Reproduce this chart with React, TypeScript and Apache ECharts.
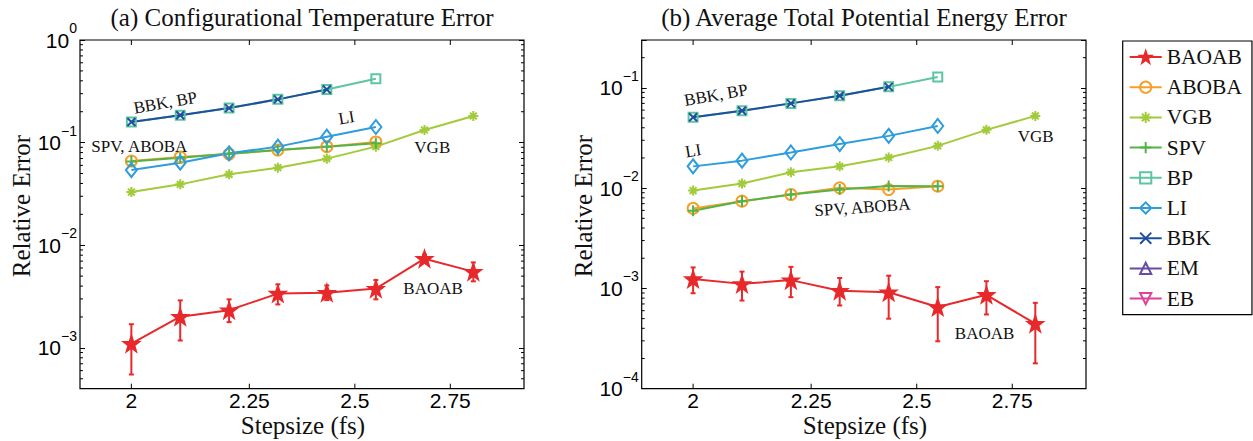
import React, { useEffect, useRef } from 'react';
import * as echarts from 'echarts';

// Step sizes (fs) shared by both panels
const stepsizes = [2, 2.1, 2.205, 2.315, 2.431, 2.553, 2.68, 2.814];

const xTickValues = [2, 2.25, 2.5, 2.75];
const xTickLabels = ['2', '2.25', '2.5', '2.75'];

const methods = ['BAOAB', 'ABOBA', 'VGB', 'SPV', 'BP', 'LI', 'BBK', 'EM', 'EB'];

// (a) configurational temperature relative error
const tempBAOAB = [0.0011, 0.00201, 0.00233, 0.00338, 0.00345, 0.00378, 0.0074, 0.00553];
const tempBAOABLow = [0.00055, 0.00118, 0.00178, 0.00265, 0.00292, 0.00297, 0.0068, 0.00445];
const tempBAOABHigh = [0.0017, 0.0029, 0.00297, 0.00416, 0.00406, 0.00458, 0.0081, 0.0068];
const tempABOBA = [0.0662, 0.0724, 0.0774, 0.0847, 0.0914, 0.1014];
const tempVGB = [0.033, 0.0392, 0.0491, 0.057, 0.0698, 0.0914, 0.1327, 0.1817];
const tempSPV = [0.0655, 0.0712, 0.078, 0.0848, 0.0914, 0.0985];
const tempBP = [0.159, 0.1845, 0.217, 0.264, 0.329, 0.42];
const tempLI = [0.054, 0.0638, 0.0787, 0.0914, 0.1143, 0.142];
const tempBBK = [0.159, 0.1845, 0.217, 0.264, 0.329];
const tempEM: number[] = [];
const tempEB: number[] = [];

// (b) average total potential energy relative error
const energyBAOAB = [0.00124, 0.00111, 0.00121, 0.00095, 0.000916, 0.000652, 0.000863, 0.000445];
const energyBAOABLow = [0.000895, 0.000757, 0.000818, 0.000676, 0.000499, 0.000297, 0.00055, 0.000179];
const energyBAOABHigh = [0.00162, 0.00147, 0.00164, 0.00127, 0.00134, 0.00103, 0.00118, 0.000718];
const energyABOBA = [0.00628, 0.00741, 0.00864, 0.01007, 0.00968, 0.01045];
const energyVGB = [0.00946, 0.0111, 0.0144, 0.0165, 0.0202, 0.0264, 0.0381, 0.0525];
const energySPV = [0.00596, 0.00741, 0.00864, 0.00968, 0.01052, 0.01045];
const energyBP = [0.0509, 0.0591, 0.07, 0.0833, 0.1023, 0.1285];
const energyLI = [0.01648, 0.0188, 0.0227, 0.0275, 0.0332, 0.0417];
const energyBBK = [0.0509, 0.0591, 0.07, 0.0833, 0.1023];
const energyEM: number[] = [];
const energyEB: number[] = [];

// In-plot labels, anchored in data coordinates: [stepsize, error, text, angle in degrees]
const tempNotes: [number, number, string, number][] = [
  [2.069, 0.245, 'BBK, BP', 10],
  [2.479, 0.175, 'LI', 10],
  [2.016, 0.0914, 'SPV, ABOBA', 0],
  [2.701, 0.0894, 'VGB', 0],
  [2.703, 0.00378, 'BAOAB', 0],
];
const energyNotes: [number, number, string, number][] = [
  [2.046, 0.0847, 'BBK, BP', 10],
  [2.0, 0.0236, 'LI', 10],
  [2.368, 0.00643, 'SPV, ABOBA', 4],
  [2.815, 0.0324, 'VGB', 0],
  [2.675, 0.000353, 'BAOAB', 0],
];

const SERIF = '"Liberation Serif", "Times New Roman", serif';
const SANS = '"Liberation Sans", Arial, Helvetica, sans-serif';
const TEXT = '#111';

function starSymbol(): string {
  const pts: string[] = [];
  for (let i = 0; i < 10; i++) {
    const r = i % 2 === 0 ? 50 : 20;
    const a = -Math.PI / 2 + (i * Math.PI) / 5;
    pts.push(`${(50 + r * Math.cos(a)).toFixed(2)} ${(50 + r * Math.sin(a)).toFixed(2)}`);
  }
  return 'path://M' + pts.join('L') + 'Z';
}

const STAR = starSymbol();
const PLUS = 'path://M5 0L5 10M0 5L10 5';
const CROSS = 'path://M0 0L10 10M10 0L0 10';
const ASTERISK = 'path://M5 0L5 10M0 5L10 5M1.6 1.6L8.4 8.4M8.4 1.6L1.6 8.4';
const TRI_DOWN = 'path://M0 0L10 0L5 8.7Z';

type MStyle = { color: string; symbol: string; size: number | number[]; filled: boolean };
const methodStyles: Record<string, MStyle> = {
  BAOAB: { color: '#e8292c', symbol: STAR, size: 15, filled: true },
  ABOBA: { color: '#f5a02c', symbol: 'circle', size: 11, filled: false },
  VGB: { color: '#a2cb3a', symbol: ASTERISK, size: 10, filled: true },
  SPV: { color: '#52b447', symbol: PLUS, size: 11, filled: false },
  BP: { color: '#5dc5a0', symbol: 'rect', size: 9, filled: false },
  LI: { color: '#2e9ddd', symbol: 'diamond', size: [11, 14], filled: false },
  BBK: { color: '#1f4f9f', symbol: CROSS, size: 8, filled: false },
  EM: { color: '#6a4ba3', symbol: 'triangle', size: 11, filled: false },
  EB: { color: '#df3f95', symbol: TRI_DOWN, size: 11, filled: false },
};

const X_MIN = 1.9;
const X_MAX = 2.96;

type Panel = {
  values: Record<string, number[]>;
  low: number[];
  high: number[];
  notes: [number, number, string, number][];
  yMin: number;
  yMax: number;
};

const panels: Panel[] = [
  {
    values: {
      BAOAB: tempBAOAB, ABOBA: tempABOBA, VGB: tempVGB, SPV: tempSPV, BP: tempBP,
      LI: tempLI, BBK: tempBBK, EM: tempEM, EB: tempEB,
    },
    low: tempBAOABLow,
    high: tempBAOABHigh,
    notes: tempNotes,
    yMin: 4e-4,
    yMax: 1,
  },
  {
    values: {
      BAOAB: energyBAOAB, ABOBA: energyABOBA, VGB: energyVGB, SPV: energySPV, BP: energyBP,
      LI: energyLI, BBK: energyBBK, EM: energyEM, EB: energyEB,
    },
    low: energyBAOABLow,
    high: energyBAOABHigh,
    notes: energyNotes,
    yMin: 1e-4,
    yMax: 0.3,
  },
];

// Minor tick positions (2..9 times each decade) strictly inside the axis range
function minorTicks(min: number, max: number): number[] {
  const out: number[] = [];
  for (let e = Math.floor(Math.log10(min)); e <= Math.ceil(Math.log10(max)); e++) {
    for (let m = 2; m <= 9; m++) {
      const v = m * Math.pow(10, e);
      if (v > min * 1.0001 && v < max * 0.9999) out.push(v);
    }
  }
  return out;
}

function powerLabel(value: number): string {
  const l = Math.log10(value);
  const e = Math.round(l);
  if (Math.abs(l - e) > 1e-6) return '';
  const exp = e < 0 ? '\u2212' + -e : String(e);
  return `{b|10}{s|${exp}}`;
}

const yLabelRich = {
  b: { fontFamily: SANS, fontSize: 21, color: '#000', verticalAlign: 'middle' },
  s: { fontFamily: SANS, fontSize: 14, color: '#000', verticalAlign: 'middle', padding: [0, 0, 24, 0] },
};

function buildOption(): echarts.EChartsOption {
  const grids = [
    { left: 80, top: 40, width: 444, height: 348.7 },
    { left: 641.7, top: 40, width: 444.3, height: 348.7 },
  ].map((g) => ({
    ...g,
    show: true,
    borderColor: '#000',
    borderWidth: 1.2,
    backgroundColor: 'transparent',
    containLabel: false,
    outerBoundsMode: 'none',
  }));

  const xAxes = panels.map((_, p) => ({
    type: 'log' as const,
    gridIndex: p,
    min: X_MIN,
    max: X_MAX,
    axisLine: { show: false },
    axisTick: { show: false },
    axisLabel: { show: false },
    splitLine: { show: false },
  }));

  const yAxes: any[] = [];
  panels.forEach((panel, p) => {
    ['left', 'right'].forEach((pos) => {
      yAxes.push({
        type: 'log',
        gridIndex: p,
        position: pos,
        min: panel.yMin,
        max: panel.yMax,
        axisLine: { show: false },
        splitLine: { show: false },
        axisTick: { show: true, inside: true, length: 5, lineStyle: { color: '#000', width: 1 } },
        axisLabel:
          pos === 'left'
            ? { show: true, margin: 3, formatter: powerLabel, rich: yLabelRich, showMinLabel: true }
            : { show: false },
      });
    });
  });

  const series: any[] = [];

  panels.forEach((panel, p) => {
    const yIdx = 2 * p;

    methods.forEach((name) => {
      const st = methodStyles[name];
      const vals = panel.values[name];
      series.push({
        type: 'line',
        name,
        xAxisIndex: p,
        yAxisIndex: yIdx,
        data: vals.map((v, i) => [stepsizes[i], v]),
        symbol: st.symbol,
        symbolSize: st.size,
        showSymbol: true,
        lineStyle: { color: st.color, width: 2 },
        itemStyle: {
          color: st.filled ? st.color : 'transparent',
          borderColor: st.color,
          borderWidth: 2,
        },
        emphasis: { disabled: true },
        silent: true,
      });

      if (name === 'BAOAB') {
        // Vertical error bars with short caps
        series.push({
          type: 'custom',
          name: 'BAOAB error',
          xAxisIndex: p,
          yAxisIndex: yIdx,
          data: stepsizes.map((x, i) => [x, panel.low[i], panel.high[i]]),
          encode: { x: 0, y: [1, 2] },
          silent: true,
          renderItem: (_params: any, api: any) => {
            const x = api.value(0);
            const lo = api.coord([x, api.value(1)]);
            const hi = api.coord([x, api.value(2)]);
            const w = 2.5;
            const style = { stroke: st.color, lineWidth: 2 };
            return {
              type: 'group',
              children: [
                { type: 'line', shape: { x1: lo[0], y1: lo[1], x2: hi[0], y2: hi[1] }, style },
                { type: 'line', shape: { x1: lo[0] - w, y1: lo[1], x2: lo[0] + w, y2: lo[1] }, style },
                { type: 'line', shape: { x1: hi[0] - w, y1: hi[1], x2: hi[0] + w, y2: hi[1] }, style },
              ],
            };
          },
        });
      }
    });

    // Stepsize ticks on bottom and top edges plus their labels
    series.push({
      type: 'custom',
      name: 'x ticks',
      xAxisIndex: p,
      yAxisIndex: yIdx,
      data: xTickValues.map((v) => [v, panel.yMax]),
      encode: { x: 0, y: 1 },
      silent: true,
      z: 10,
      renderItem: (params: any, api: any) => {
        const cs = params.coordSys;
        const px = api.coord([api.value(0), panel.yMax])[0];
        const bottom = cs.y + cs.height;
        const top = cs.y;
        const tick = { stroke: '#000', lineWidth: 1 };
        return {
          type: 'group',
          children: [
            { type: 'line', shape: { x1: px, y1: bottom, x2: px, y2: bottom - 5 }, style: tick },
            { type: 'line', shape: { x1: px, y1: top, x2: px, y2: top + 5 }, style: tick },
            {
              type: 'text',
              x: px,
              y: bottom + 11.5,
              style: {
                text: xTickLabels[params.dataIndex],
                fill: '#000',
                fontFamily: SANS,
                fontSize: 21,
                align: 'center',
                verticalAlign: 'middle',
                textAlign: 'center',
                textVerticalAlign: 'middle',
              },
            },
          ],
        };
      },
    });

    // Minor ticks of the log error axis on the left and right edges
    series.push({
      type: 'custom',
      name: 'minor ticks',
      xAxisIndex: p,
      yAxisIndex: yIdx,
      data: minorTicks(panel.yMin, panel.yMax).map((v) => [X_MIN, v]),
      encode: { x: 0, y: 1 },
      silent: true,
      z: 10,
      renderItem: (params: any, api: any) => {
        const cs = params.coordSys;
        const py = api.coord([X_MIN, api.value(1)])[1];
        const tick = { stroke: '#000', lineWidth: 1 };
        const r = cs.x + cs.width;
        return {
          type: 'group',
          children: [
            { type: 'line', shape: { x1: cs.x, y1: py, x2: cs.x + 3, y2: py }, style: tick },
            { type: 'line', shape: { x1: r, y1: py, x2: r - 3, y2: py }, style: tick },
          ],
        };
      },
    });

    // Method names written next to their curves
    series.push({
      type: 'custom',
      name: 'notes',
      xAxisIndex: p,
      yAxisIndex: yIdx,
      data: panel.notes.map((n) => [n[0], n[1]]),
      encode: { x: 0, y: 1 },
      silent: true,
      z: 10,
      renderItem: (params: any, api: any) => {
        const note = panel.notes[params.dataIndex];
        const pt = api.coord([api.value(0), api.value(1)]);
        return {
          type: 'text',
          x: pt[0],
          y: pt[1],
          rotation: (note[3] * Math.PI) / 180,
          style: {
            text: note[2],
            fill: TEXT,
            fontFamily: SERIF,
            fontSize: 17,
            align: 'center',
            verticalAlign: 'middle',
            textAlign: 'center',
            textVerticalAlign: 'middle',
          },
        };
      },
    });
  });

  const label = (text: string, x: number, y: number, size: number, rotation = 0) => ({
    type: 'text',
    x,
    y,
    rotation,
    silent: true,
    style: {
      text,
      fill: TEXT,
      font: `${size}px ${SERIF}`,
      fontFamily: SERIF,
      fontSize: size,
      align: 'center',
      verticalAlign: 'middle',
      textAlign: 'center',
      textVerticalAlign: 'middle',
    },
  });

  return {
    animation: false,
    backgroundColor: '#fff',
    grid: grids as any,
    xAxis: xAxes as any,
    yAxis: yAxes,
    legend: {
      data: methods,
      orient: 'vertical',
      left: 1122.7,
      top: 41,
      padding: [5, 10, 5, 6],
      itemWidth: 32,
      itemHeight: 14,
      itemGap: 8.2,
      borderColor: '#000',
      borderWidth: 1.2,
      backgroundColor: '#fff',
      selectedMode: false,
      textStyle: { fontFamily: SERIF, fontSize: 21.5, color: TEXT },
    },
    graphic: [
      label('(a) Configurational Temperature Error', 302, 17, 25),
      label('(b) Average Total Potential Energy Error', 864, 17, 25),
      label('Stepsize (fs)', 303, 425, 25),
      label('Stepsize (fs)', 865, 425, 25),
      label('Relative Error', 21, 206, 25, Math.PI / 2),
      label('Relative Error', 583, 206, 25, Math.PI / 2),
    ] as any,
    series,
  };
}

export default function App() {
  const ref = useRef<HTMLDivElement>(null);
  useEffect(() => {
    if (!ref.current) return;
    const chart = echarts.init(ref.current, undefined, { renderer: 'svg' });
    chart.setOption(buildOption());
    return () => chart.dispose();
  }, []);
  return (
    <div
      ref={ref}
      style={{ position: 'absolute', left: 0, top: 0, width: 1253, height: 441, background: '#fff' }}
    />
  );
}
